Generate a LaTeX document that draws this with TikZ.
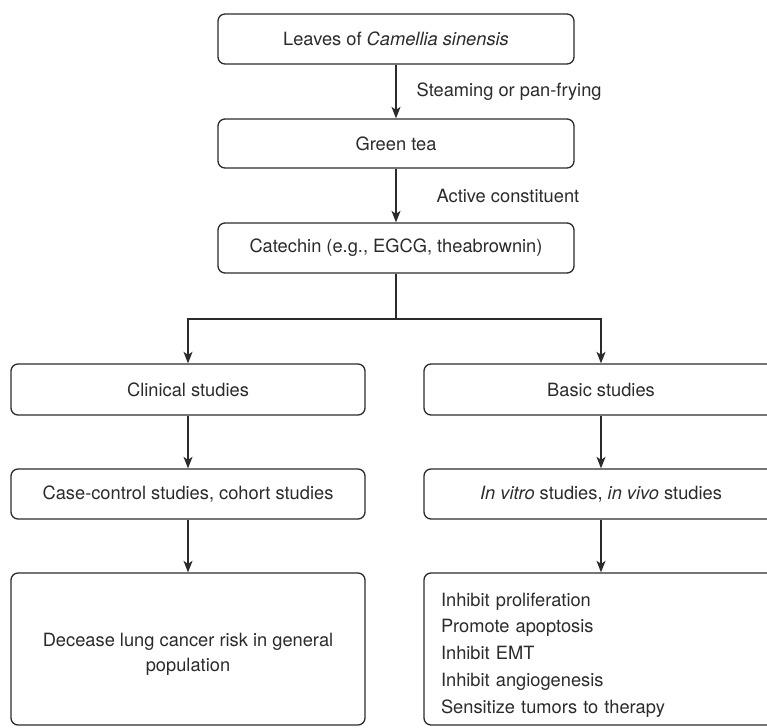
\documentclass[tikz,border=0pt]{standalone}
\usepackage{fontspec}
\setmainfont{TeX Gyre Heros}
\usetikzlibrary{arrows.meta,calc}
\definecolor{ink}{HTML}{2B2B2B}
\tikzset{
    block/.style = {draw=ink, rectangle, rounded corners=0.14cm, line width=0.75pt,
        minimum height=1cm, minimum width=7.12cm, align=center},
    wideblock/.style = {block, minimum width=7.08cm, minimum height=1.02cm},
    tallblock/.style = {block, minimum width=7.08cm, minimum height=3.04cm},
    split/.style = {coordinate},
    arrow/.style={draw=ink, line width=0.75pt, ->},
    lbl/.style = {anchor=west, inner xsep=0.4cm}
}

\begin{document}
\begin{tikzpicture}[auto, node distance=2.09cm, >={Stealth[length=2.3mm,width=1.8mm,inset=0.6mm]},
    every node/.style={font=\fontsize{10.4}{14.5}\selectfont, text=ink}]
        \path[use as bounding box, clip] (0,0) rectangle (15.34,-14.54);
        \node [block] at (7.92,-0.78) (leaves) {Leaves of \textit{Camellia sinensis}};
        \node [block, below of=leaves, minimum height=0.98cm] (greentea) {Green tea};
        \node [block, below of=greentea] (catechin) {Catechin (e.g., EGCG, theabrownin)};
        \draw[arrow] (leaves) -- node[lbl] {Steaming or pan-frying} (greentea);
        \draw[arrow] (greentea) -- node[lbl, inner xsep=0.8cm] {Active constituent} (catechin);
        \node [split, below of=catechin, node distance=1.42cm] (fork) {};
        % two branches
        \node [wideblock, below of=catechin, node distance=2.83cm, xshift=-4.16cm] (clinical) {Clinical studies};
        \node [wideblock, below of=catechin, node distance=2.83cm, xshift=4.10cm] (basic) {Basic studies};
        \draw[draw=ink, line width=0.75pt] (catechin) -- (fork);
        \draw[arrow] (fork) -| (clinical);
        \draw[arrow] (fork) -| (basic);
        \node [wideblock, below of=clinical, minimum height=1cm] (casecontrol) {Case-control studies, cohort studies};
        \node [wideblock, below of=basic, minimum height=1cm] (invitro) {\textit{In vitro} studies, \textit{in vivo} studies};
        \draw[arrow] (clinical) -- (casecontrol);
        \draw[arrow] (basic) -- (invitro);
        \node [tallblock, below of=casecontrol, node distance=3.10cm, font=\fontsize{10.4}{14.2}\selectfont] (risk)
            {\rule{0pt}{13.4pt}Decease lung cancer risk in general\\population};
        \node [tallblock, below of=invitro, node distance=3.10cm, align=left, inner xsep=0.34cm,
            text width=6.40cm, font=\fontsize{10.4}{15.2}\selectfont] (effects)
            {\rule{0pt}{14.4pt}Inhibit proliferation\\Promote apoptosis\\Inhibit EMT\\Inhibit angiogenesis\\Sensitize tumors to therapy};
        \draw[arrow] (casecontrol) -- (risk);
        \draw[arrow] (invitro) -- (effects);
    \end{tikzpicture}
\end{document}
